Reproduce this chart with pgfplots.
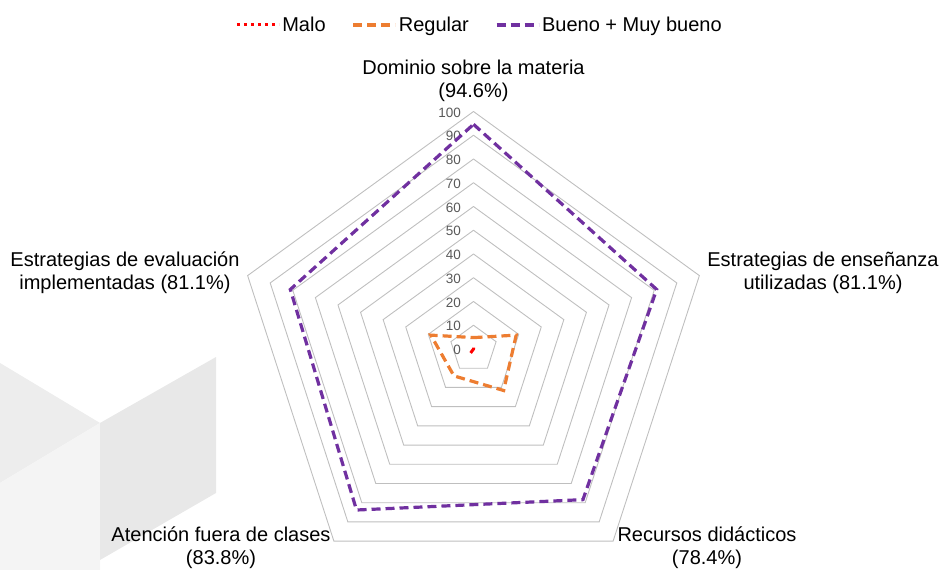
\documentclass[border=0pt]{standalone}
\usepackage{pgfplots}
\pgfplotsset{compat=1.18}
\usepgfplotslibrary{polar}
\usepackage{fontspec}
\setmainfont{Liberation Sans}
\definecolor{cmalo}{HTML}{FF0000}
\definecolor{creg}{HTML}{ED7D31}
\definecolor{cbueno}{HTML}{7030A0}
\definecolor{cgrid}{HTML}{BFBFBF}
\definecolor{ctick}{HTML}{595959}
\begin{document}
\begin{tikzpicture}[x=1pt,y=1pt]
\path[use as bounding box] (0pt,0pt) rectangle (942pt,570pt);
% background watermark
\fill[black!7] (0pt,207pt) -- (100pt,147pt) -- (0pt,87pt) -- cycle;
\fill[black!4.5] (0pt,87pt) -- (100pt,147pt) -- (100pt,0pt) -- (0pt,0pt) -- cycle;
\fill[black!9] (100pt,147pt) -- (216pt,213pt) -- (216pt,77pt) -- (100pt,10pt) -- cycle;
\begin{polaraxis}[
  at={(473.5pt,221pt)}, anchor=center,
  scale only axis, width=475pt, height=475pt,
  ymin=0, ymax=100, hide axis, clip=false,
  legend columns=3,
  legend style={draw=none, fill=none, at={(0.5,1)}, anchor=center, yshift=86.5pt, xshift=6pt,
    font=\fontsize{20}{24}\selectfont,
    /tikz/every even column/.append style={column sep=24pt}},
  legend image code/.code={\draw[#1] (0pt,0pt) -- (42pt,0pt);},
]
\pgfplotsinvokeforeach{10,20,...,100}{
  \addplot[cgrid, line width=0.9pt, no marks, forget plot] coordinates {(90,#1) (18,#1) (306,#1) (234,#1) (162,#1) (90,#1)};
}
\pgfplotsinvokeforeach{0,10,...,100}{
  \node[anchor=east, text=ctick, font=\fontsize{13.5}{15}\selectfont, inner sep=0pt, xshift=-12.5pt, yshift=-1pt] at (axis cs:90,#1) {#1};
}
\addplot[cmalo, line width=3pt, dash pattern=on 3pt off 4pt, no marks] coordinates {(90,0.6) (18,0) (306,0) (234,2.2) (162,0) (90,0.6)};
\addlegendentry{Malo}
\addplot[creg, line width=3.2pt, dash pattern=on 9pt off 5pt, no marks] coordinates {(90,4.8) (18,18.9) (306,21.6) (234,14.0) (162,18.9) (90,4.8)};
\addlegendentry{Regular}
\addplot[cbueno, line width=3.2pt, dash pattern=on 9pt off 5pt, no marks] coordinates {(90,94.6) (18,81.1) (306,78.4) (234,83.8) (162,81.1) (90,94.6)};
\addlegendentry{Bueno + Muy bueno}
\end{polaraxis}
\begin{scope}[every node/.style={align=center, font=\fontsize{20}{23}\selectfont, inner sep=0pt}]
\node at (473.5pt,489pt) {Dominio sobre la materia\\(94.6\%)};
\node at (823pt,297pt) {Estrategias de enseñanza\\utilizadas (81.1\%)};
\node at (125pt,297pt) {Estrategias de evaluación\\implementadas (81.1\%)};
\node at (707pt,22.5pt) {Recursos didácticos\\(78.4\%)};
\node at (221pt,22.5pt) {Atención fuera de clases\\(83.8\%)};
\end{scope}
\end{tikzpicture}
\end{document}
